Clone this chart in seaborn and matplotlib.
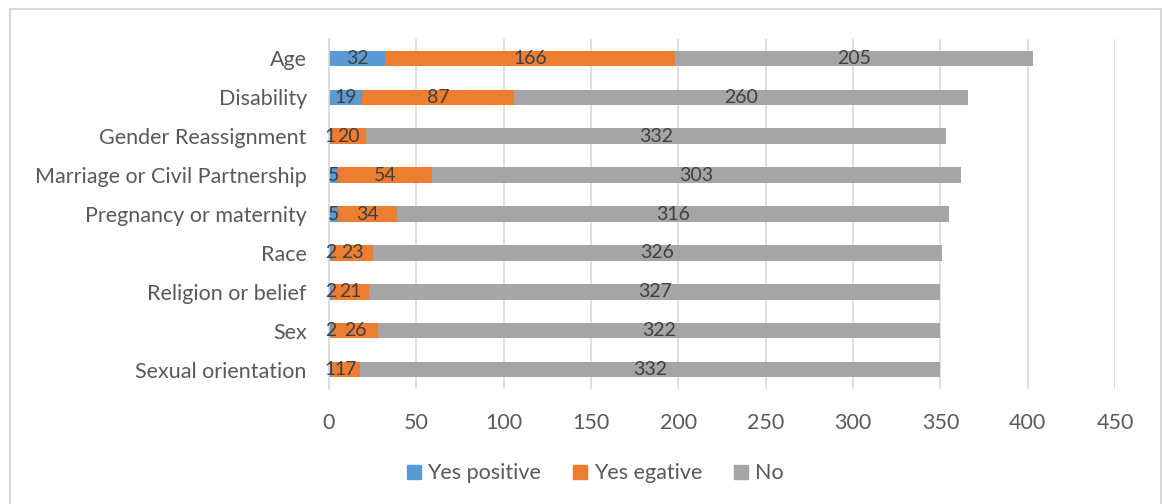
import matplotlib
matplotlib.use("Agg")
import matplotlib.pyplot as plt
from matplotlib.patches import Rectangle, Patch
import seaborn as sns
import pandas as pd
import numpy as np

# data
categories = ["Age", "Disability", "Gender Reassignment", "Marriage or Civil Partnership",
              "Pregnancy or maternity", "Race", "Religion or belief", "Sex",
              "Sexual orientation"]
yes_positive = [32, 19, 1, 5, 5, 2, 2, 2, 1]
yes_negative = [166, 87, 20, 54, 34, 23, 21, 26, 17]
no = [205, 260, 332, 303, 316, 326, 327, 322, 332]
series_names = ["Yes positive", "Yes egative", "No"]
COLORS = ["#5B9BD5", "#ED7D31", "#A5A5A5"]
TEXT = "#595959"

sns.set_theme(style="white")
plt.rcParams["font.family"] = ["Lato", "DejaVu Sans"]

df = pd.DataFrame({"category": categories, "pos": yes_positive,
                   "neg": yes_negative, "no": no})
df["c1"] = df["pos"]
df["c2"] = df["pos"] + df["neg"]
df["c3"] = df["c2"] + df["no"]

fig = plt.figure(figsize=(11.62, 5.04), dpi=100)
ax = fig.add_axes([329 / 1162, 1 - 389 / 504, (1115 - 329) / 1162, 350 / 504])

# stacked bars drawn as overlapping cumulative totals
for col, color in zip(["c3", "c2", "c1"], COLORS[::-1]):
    sns.barplot(data=df, x=col, y="category", orient="h", color=color,
                width=0.4, saturation=1, ax=ax, linewidth=0)

# segment labels at segment centres
for i, row in df.iterrows():
    starts = [0, row["c1"], row["c2"]]
    for s, v in zip(starts, [row["pos"], row["neg"], row["no"]]):
        ax.text(s + v / 2, i, str(v), ha="center", va="center",
                fontsize=14, color="#404040")

ax.set_xlim(0, 450)
ax.set_ylim(len(categories) - 0.5, -0.5)
ax.set_xticks(range(0, 451, 50))
ax.xaxis.grid(True, color="#D9D9D9", lw=1.2)
ax.set_axisbelow(True)
for sp in ["top", "right", "bottom"]:
    ax.spines[sp].set_visible(False)
ax.spines["left"].set_color("#D9D9D9")
ax.spines["left"].set_linewidth(1.2)
ax.set_xlabel("")
ax.set_ylabel("")
ax.tick_params(axis="x", length=0, pad=17, labelsize=15.5, labelcolor=TEXT)
ax.tick_params(axis="y", length=0, pad=16, labelsize=15.5, labelcolor=TEXT)

handles = [Patch(color=c, label=n) for c, n in zip(COLORS, series_names)]
fig.legend(handles=handles, loc="center", bbox_to_anchor=(0.512, 0.061), ncol=3,
           frameon=False, fontsize=15.5, labelcolor=TEXT, handlelength=0.65,
           handleheight=0.65, handletextpad=0.3, columnspacing=1.5)

# chart frame
fig.patches.append(Rectangle((10 / 1162, -0.01), 1151 / 1162, 1 - 9 / 504 + 0.01,
                             transform=fig.transFigure, fill=False,
                             edgecolor="#D9D9D9", lw=1.5))

fig.savefig("out.png", dpi=100)
